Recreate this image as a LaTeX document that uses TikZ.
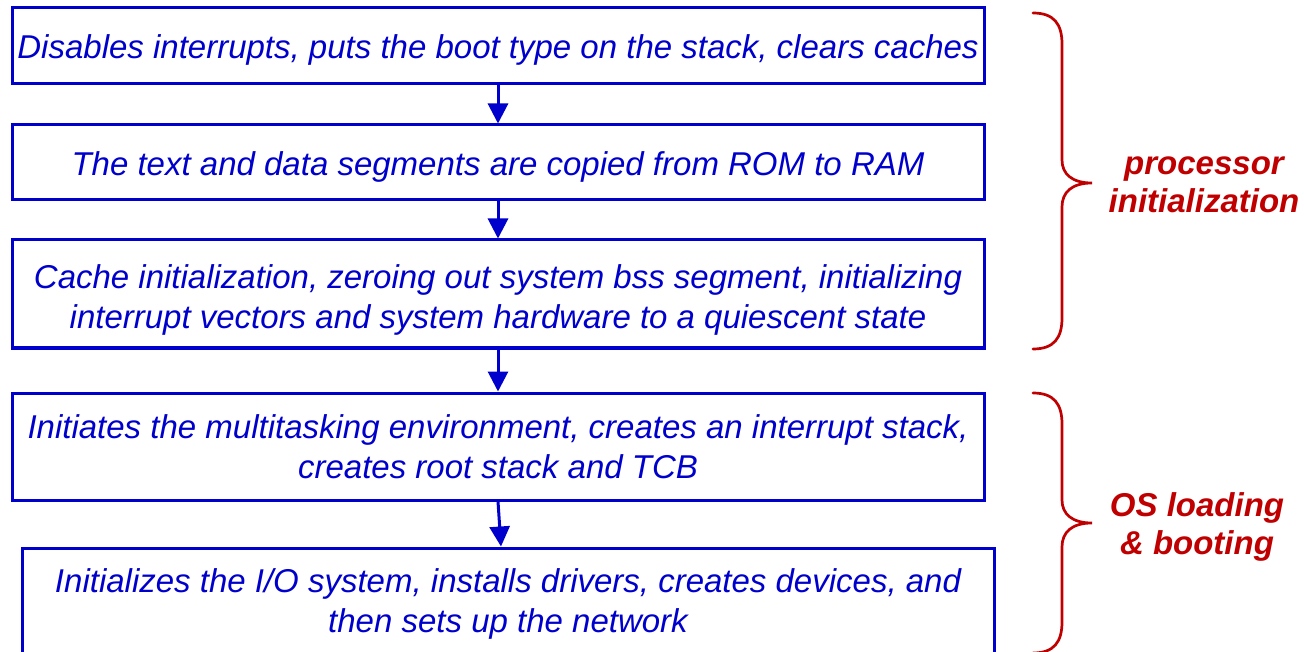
\documentclass[tikz,border=0pt]{standalone}
\usepackage{fontspec}
\setmainfont{Liberation Sans}
\usetikzlibrary{arrows.meta,calc}
\definecolor{boxblue}{RGB}{0,0,204}
\definecolor{bracered}{RGB}{192,0,0}
\newcommand{\onestrut}{\rule{0pt}{32pt}}
\newcommand{\twostrut}{\rule{0pt}{36pt}}
\newcommand{\lowstrut}{\rule{0pt}{28pt}}
\begin{document}
\begin{tikzpicture}[x=1pt,y=-1pt,
 stepbox/.style={draw=boxblue,line width=3pt,minimum width=972pt,inner sep=0pt,align=center,text=boxblue,font=\fontsize{33}{40}\selectfont\itshape},
 flow/.style={draw=boxblue,line width=3pt,-{Triangle[length=20pt,width=20pt]}},
 brace/.style={draw=bracered,line width=2.7pt,line cap=round},
 grouplabel/.style={text=bracered,align=center,font=\fontsize{33}{38}\selectfont\bfseries\itshape}]
\clip (0,0) rectangle (1304,652);
\fill[white] (0,0) rectangle (1304,652);
\node[stepbox,minimum height=76pt] (b1) at (498,46) {\onestrut Disables interrupts, puts the boot type on the stack, clears caches};
\node[stepbox,minimum height=75pt] (b2) at (498,162.5) {\onestrut The text and data segments are copied from ROM to RAM};
\node[stepbox,minimum height=108pt] (b3) at (498,294) {\twostrut Cache initialization, zeroing out system bss segment, initializing\\interrupt vectors and system hardware to a quiescent state};
\node[stepbox,minimum height=107pt] (b4) at (498,446.5) {Initiates the multitasking environment, creates an interrupt stack,\\creates root stack and TCB};
\node[stepbox,minimum height=108pt] (b5) at (508,602) {\lowstrut Initializes the I/O system, installs drivers, creates devices, and\\then sets up the network};
\draw[flow] (b1.south) -- (b2.north);
\draw[flow] (b2.south) -- (b3.north);
\draw[flow] (b3.south) -- (b4.north);
\draw[flow] (b4.south) -- ($(b5.north)+(-7,0)$);
\draw[brace] (1033,13) .. controls (1054,13) and (1062,24) .. (1062,44) -- (1062,160) .. controls (1062,174) and (1072,183) .. (1092,183) .. controls (1072,183) and (1062,192) .. (1062,207) -- (1062,318) .. controls (1062,338) and (1054,349) .. (1033,349);
\draw[brace] (1033,393) .. controls (1054,393) and (1062,404) .. (1062,424) -- (1062,500) .. controls (1062,514) and (1072,523) .. (1092,523) .. controls (1072,523) and (1062,532) .. (1062,547) -- (1062,622) .. controls (1062,642) and (1054,653) .. (1033,653);
\node[grouplabel] (l1) at (1204,184.5) {processor\\initialization};
\node[grouplabel] (l2) at (1197,527) {OS loading\\\& booting};
\end{tikzpicture}
\end{document}
